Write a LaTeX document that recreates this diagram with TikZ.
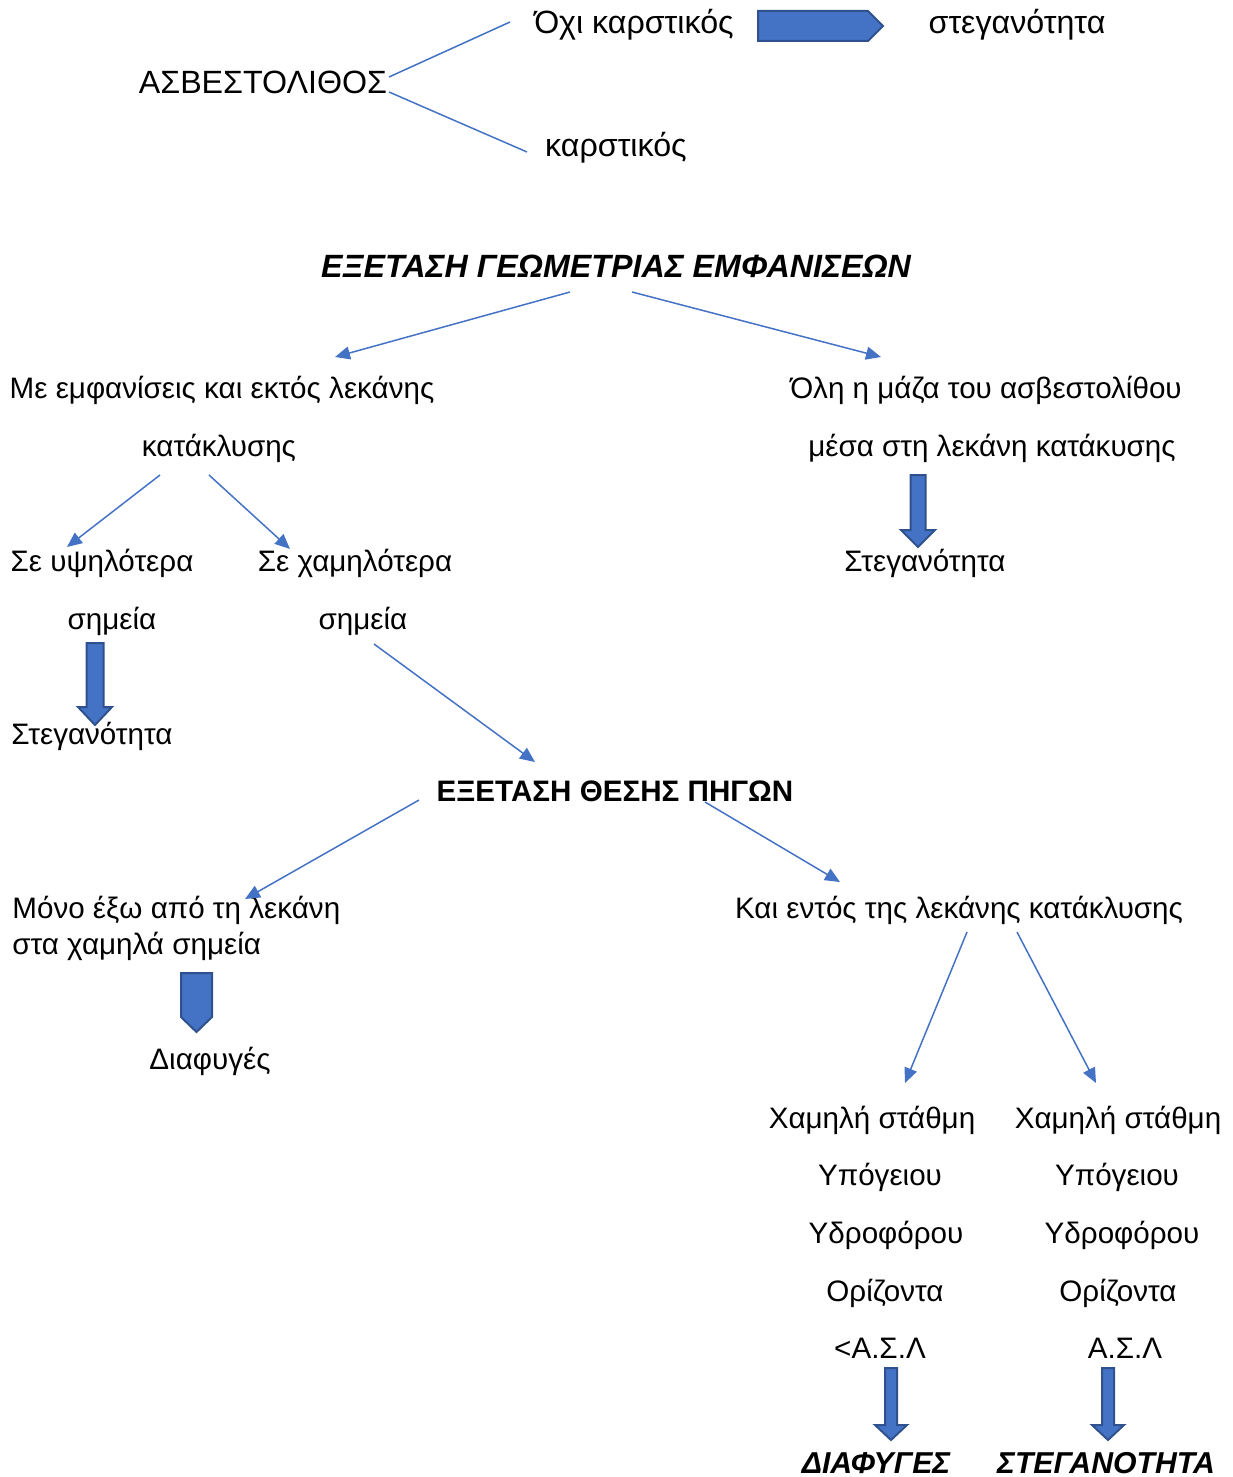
\documentclass[tikz,border=0pt]{standalone}
\usepackage{fontspec}
\setmainfont{Liberation Sans}
\usepackage{tikz}
\usetikzlibrary{calc,arrows.meta}
\definecolor{officeblue}{HTML}{4472C4}
\definecolor{officeedge}{HTML}{2F528F}
\tikzset{
	txt/.style={inner sep=0pt,anchor=base,font=\fontsize{14.8}{17}\selectfont},
	bigtxt/.style={txt,font=\fontsize{16.1}{19}\selectfont},
	ltxt/.style={txt,anchor=base west},
	hdr/.style={txt,font=\fontsize{15.1}{18}\selectfont\bfseries\itshape},
	bighdr/.style={txt,font=\fontsize{16.1}{19}\selectfont\bfseries\itshape},
	link/.style={draw=officeblue,line width=0.75pt},
	arr/.style={link,-{Triangle[length=7.5pt,width=6.5pt]}},
	blockedge/.style={draw=officeedge,fill=officeblue,line width=1pt,line join=miter},
	pics/downblock/.style n args={4}{code={
		\draw[blockedge] (-#3,0) -- (#3,0) -- (#3,#1-#2) -- (#4,#1-#2) -- (0,#1) -- (-#4,#1-#2) -- (-#3,#1-#2) -- cycle;}},
	pics/downpent/.style n args={3}{code={
		\draw[blockedge] (-#3,0) -- (#3,0) -- (#3,#1-#2) -- (0,#1) -- (-#3,#1-#2) -- cycle;}},
	pics/rightpent/.style n args={3}{code={
		\draw[blockedge] (0,-#3) -- (#1-#2,-#3) -- (#1,0) -- (#1-#2,#3) -- (0,#3) -- cycle;}}
}

\begin{document}
\begin{tikzpicture}[x=0.5pt,y=-0.5pt]
	\useasboundingbox (0,0) rectangle (1232,1477);

	% limestone
	\node[bigtxt] (asv) at (263,94) {ΑΣΒΕΣΤΟΛΙΘΟΣ};
	\node[bigtxt] (oxi) at (634,34) {Όχι καρστικός};
	\node[bigtxt] (steg0) at (1017,34) {στεγανότητα};
	\node[bigtxt] (karst) at (616,156) {καρστικός};
	\draw[link] ($(asv.base)+(126,-17)$) -- ($(oxi.base)+(-124,-12)$);
	\draw[link] ($(asv.base)+(126,-2)$) -- ($(karst.base)+(-89,-4)$);
	\pic at ($(oxi.base)+(124,-8)$) {rightpent={125}{15}{15}};

	% geometry
	\node[bighdr] (geom) at (616,277) {ΕΞΕΤΑΣΗ ΓΕΩΜΕΤΡΙΑΣ ΕΜΦΑΝΙΣΕΩΝ};
	\node[txt] (emf1) at (222,398) {Με εμφανίσεις και εκτός λεκάνης};
	\node[txt] (emf2) at (219,456) {κατάκλυσης};
	\node[txt] (oli1) at (986,398) {Όλη η μάζα του ασβεστολίθου};
	\node[txt] (oli2) at (992,456) {μέσα στη λεκάνη κατάκυσης};
	\node[txt] (stegB) at (925,571) {Στεγανότητα};
	\draw[arr] ($(geom.base)+(-46,15)$) -- ($(emf1.base)+(113,-41)$);
	\draw[arr] ($(geom.base)+(16,15)$) -- ($(oli1.base)+(-105,-41)$);
	\pic at ($(oli2.base)+(-74,19)$) {downblock={72}{17}{7.5}{17}};

	\node[txt] (ypsi1) at (102,571) {Σε υψηλότερα};
	\node[txt] (ypsi2) at (112,629) {σημεία};
	\node[txt] (xam1) at (355,571) {Σε χαμηλότερα};
	\node[txt] (xam2) at (363,629) {σημεία};
	\node[txt] (stegA) at (92,744) {Στεγανότητα};
	\draw[arr] ($(emf2.base)+(-59,19)$) -- ($(ypsi1.base)+(-35,-24)$);
	\draw[arr] ($(emf2.base)+(-10,19)$) -- ($(xam1.base)+(-65,-22)$);
	\pic at ($(ypsi2.base)+(-17,14)$) {downblock={82}{18}{8.5}{17}};

	% springs
	\node[txt,font=\fontsize{14.8}{17}\selectfont\bfseries] (piges) at (615,801) {ΕΞΕΤΑΣΗ ΘΕΣΗΣ ΠΗΓΩΝ};
	\draw[arr] ($(xam2.base)+(11,15)$) -- ($(piges.base)+(-80,-39)$);
	\node[ltxt] (mono1) at (12,918) {Μόνο έξω από τη λεκάνη};
	\node[ltxt] (mono2) at (12,954) {στα χαμηλά σημεία};
	\node[txt] (diaf) at (210,1069) {Διαφυγές};
	\node[txt] (entos) at (959,918) {Και εντός της λεκάνης κατάκλυσης};
	\draw[arr] ($(piges.base)+(-196,-1)$) -- ($(mono1.base west)+(233,-19)$);
	\draw[arr] ($(piges.base)+(90,1)$) -- ($(entos.base)+(-119,-36)$);
	\pic at ($(mono2.base west)+(184.5,19)$) {downpent={59}{15}{15.5}};

	% water table
	\node[txt] (L1) at (872,1128) {Χαμηλή στάθμη};
	\node[txt] (L2) at (880,1185) {Υπόγειου};
	\node[txt] (L3) at (886,1243) {Υδροφόρου};
	\node[txt] (L4) at (885,1301) {Ορίζοντα};
	\node[txt] (L5) at (880,1358) {<Α.Σ.Λ};
	\node[txt] (R1) at (1118,1128) {Χαμηλή στάθμη};
	\node[txt] (R2) at (1117,1185) {Υπόγειου};
	\node[txt] (R3) at (1122,1243) {Υδροφόρου};
	\node[txt] (R4) at (1118,1301) {Ορίζοντα};
	\node[txt] (R5) at (1125,1358) {Α.Σ.Λ};
	\draw[arr] ($(entos.base)+(8,14)$) -- ($(L1.base)+(33,-45)$);
	\draw[arr] ($(entos.base)+(58,14)$) -- ($(R1.base)+(-22,-45)$);
	\pic at ($(L5.base)+(11,10)$) {downblock={72}{15}{6}{16}};
	\pic at ($(R5.base)+(-17,10)$) {downblock={72}{15}{6}{16}};
	\node[hdr] (fin1) at (876,1473) {ΔΙΑΦΥΓΕΣ};
	\node[hdr] (fin2) at (1106,1473) {ΣΤΕΓΑΝΟΤΗΤΑ};
\end{tikzpicture}
\end{document}
